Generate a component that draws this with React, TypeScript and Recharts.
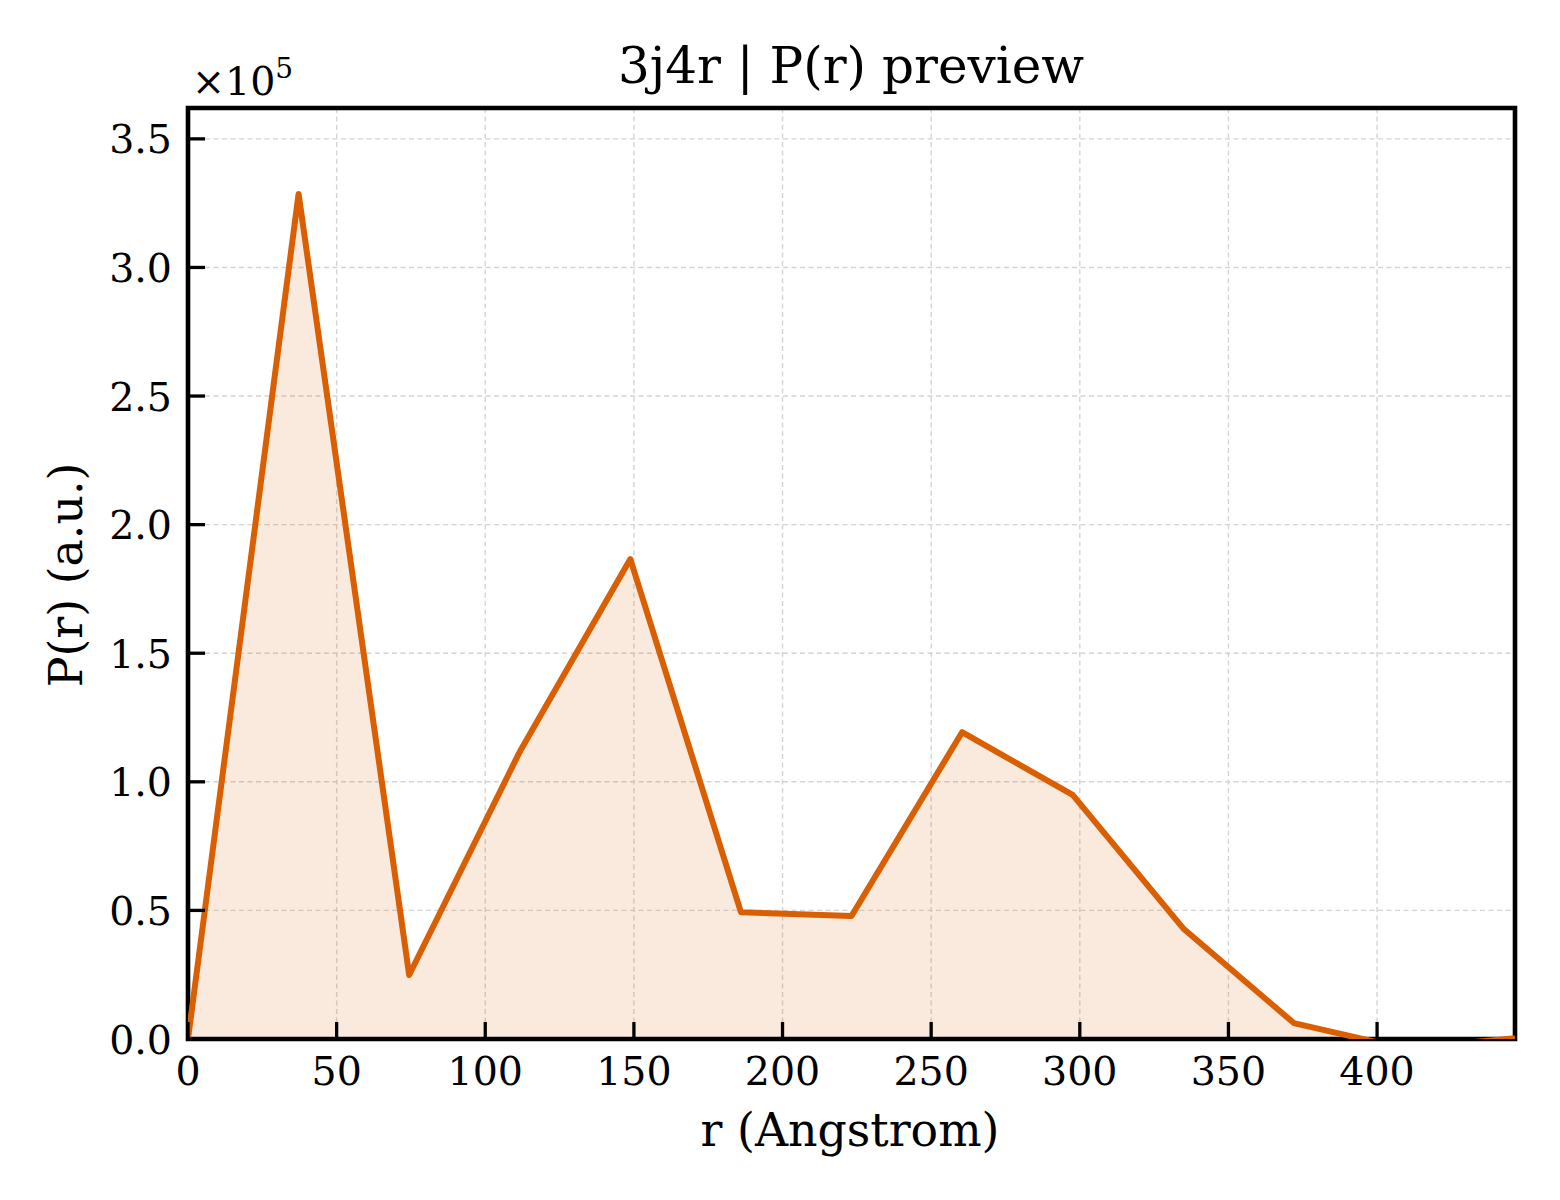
import React from 'react';
import { ComposedChart, Area, Line, XAxis, YAxis, CartesianGrid, ReferenceArea } from 'recharts';

// P(r) samples (r in Angstrom, P in a.u.)
const rValues = [0, 37.2, 74.4, 111.6, 148.8, 186, 223.2, 260.4, 297.6, 334.8, 372, 409.2, 446.4];
const pValues = [0, 328600, 24900, 111700, 186600, 49300, 47800, 119300, 94900, 43000, 6200, -3700, 300];

const xTicks = [0, 50, 100, 150, 200, 250, 300, 350, 400];
const yTicks = [0, 50000, 100000, 150000, 200000, 250000, 300000, 350000];

const X_MAX = 446.4;
const Y_MAX = 362000;

const chartData = rValues.map((r, i) => ({ r, p: pValues[i] }));

const FONT = '"DejaVu Serif", serif';
const LINE = '#d95f02';
const TICK_LEN = 17;

// text only; the inward tick marks come from tickLine with a negative tickSize
const XTick = (props: any) => {
  const { x, y, payload } = props;
  return (
    <text x={x} y={y + TICK_LEN + 46} textAnchor="middle" fontFamily={FONT} fontSize={39.5} fill="#000">
      {payload.value}
    </text>
  );
};

const YTick = (props: any) => {
  const { x, y, payload } = props;
  return (
    <text x={x - TICK_LEN - 16} y={y + 14.5} textAnchor="end" fontFamily={FONT} fontSize={39.5} fill="#000">
      {(payload.value / 1e5).toFixed(1)}
    </text>
  );
};

export default function App() {
  return (
    <div style={{ position: 'absolute', left: 0, top: 0, width: 1560, height: 1200, background: '#fff' }}>
      <ComposedChart
        width={1560}
        height={1200}
        data={chartData}
        margin={{ top: 108, right: 45, left: 0, bottom: 0 }}
      >
        <CartesianGrid
          stroke="#d4d4d4"
          strokeWidth={1.4}
          strokeDasharray="5 3.5"
          verticalValues={xTicks}
          horizontalValues={yTicks}
        />
        <XAxis
          type="number"
          dataKey="r"
          domain={[0, X_MAX]}
          ticks={xTicks}
          interval={0}
          height={161}
          tickSize={-TICK_LEN}
          tickMargin={0}
          tickLine={{ stroke: '#000', strokeWidth: 3.3 }}
          axisLine={false}
          tick={<XTick />}
          allowDataOverflow
        />
        <YAxis
          type="number"
          domain={[0, Y_MAX]}
          ticks={yTicks}
          interval={0}
          width={188}
          tickSize={-TICK_LEN}
          tickMargin={0}
          tickLine={{ stroke: '#000', strokeWidth: 3.3 }}
          axisLine={false}
          tick={<YTick />}
          allowDataOverflow
        />
        <Area
          type="linear"
          dataKey="p"
          stroke="none"
          fill={LINE}
          fillOpacity={0.13}
          dot={false}
          activeDot={false}
          baseValue={0}
          isAnimationActive={false}
        />
        <Line
          type="linear"
          dataKey="p"
          stroke={LINE}
          strokeWidth={6}
          strokeLinejoin="round"
          dot={false}
          activeDot={false}
          isAnimationActive={false}
        />
        <ReferenceArea
          x1={0}
          x2={X_MAX}
          y1={0}
          y2={Y_MAX}
          fill="none"
          fillOpacity={0}
          stroke="#000"
          strokeWidth={4.6}
          ifOverflow="visible"
        />
        <text x={851} y={83} textAnchor="middle" fontFamily={FONT} fontSize={50} fill="#000">
          3j4r | P(r) preview
        </text>
        <text x={850} y={1146} textAnchor="middle" fontFamily={FONT} fontSize={45.8} fill="#000">
          r (Angstrom)
        </text>
        <text
          x={82}
          y={575}
          transform="rotate(-90 82 575)"
          textAnchor="middle"
          fontFamily={FONT}
          fontSize={45.8}
          fill="#000"
        >
          P(r) (a.u.)
        </text>
        <text x={192} y={95} fontFamily={FONT} fontSize={39.5} fill="#000">
          ×10
          <tspan dy={-17} fontSize={28}>5</tspan>
        </text>
      </ComposedChart>
    </div>
  );
}
